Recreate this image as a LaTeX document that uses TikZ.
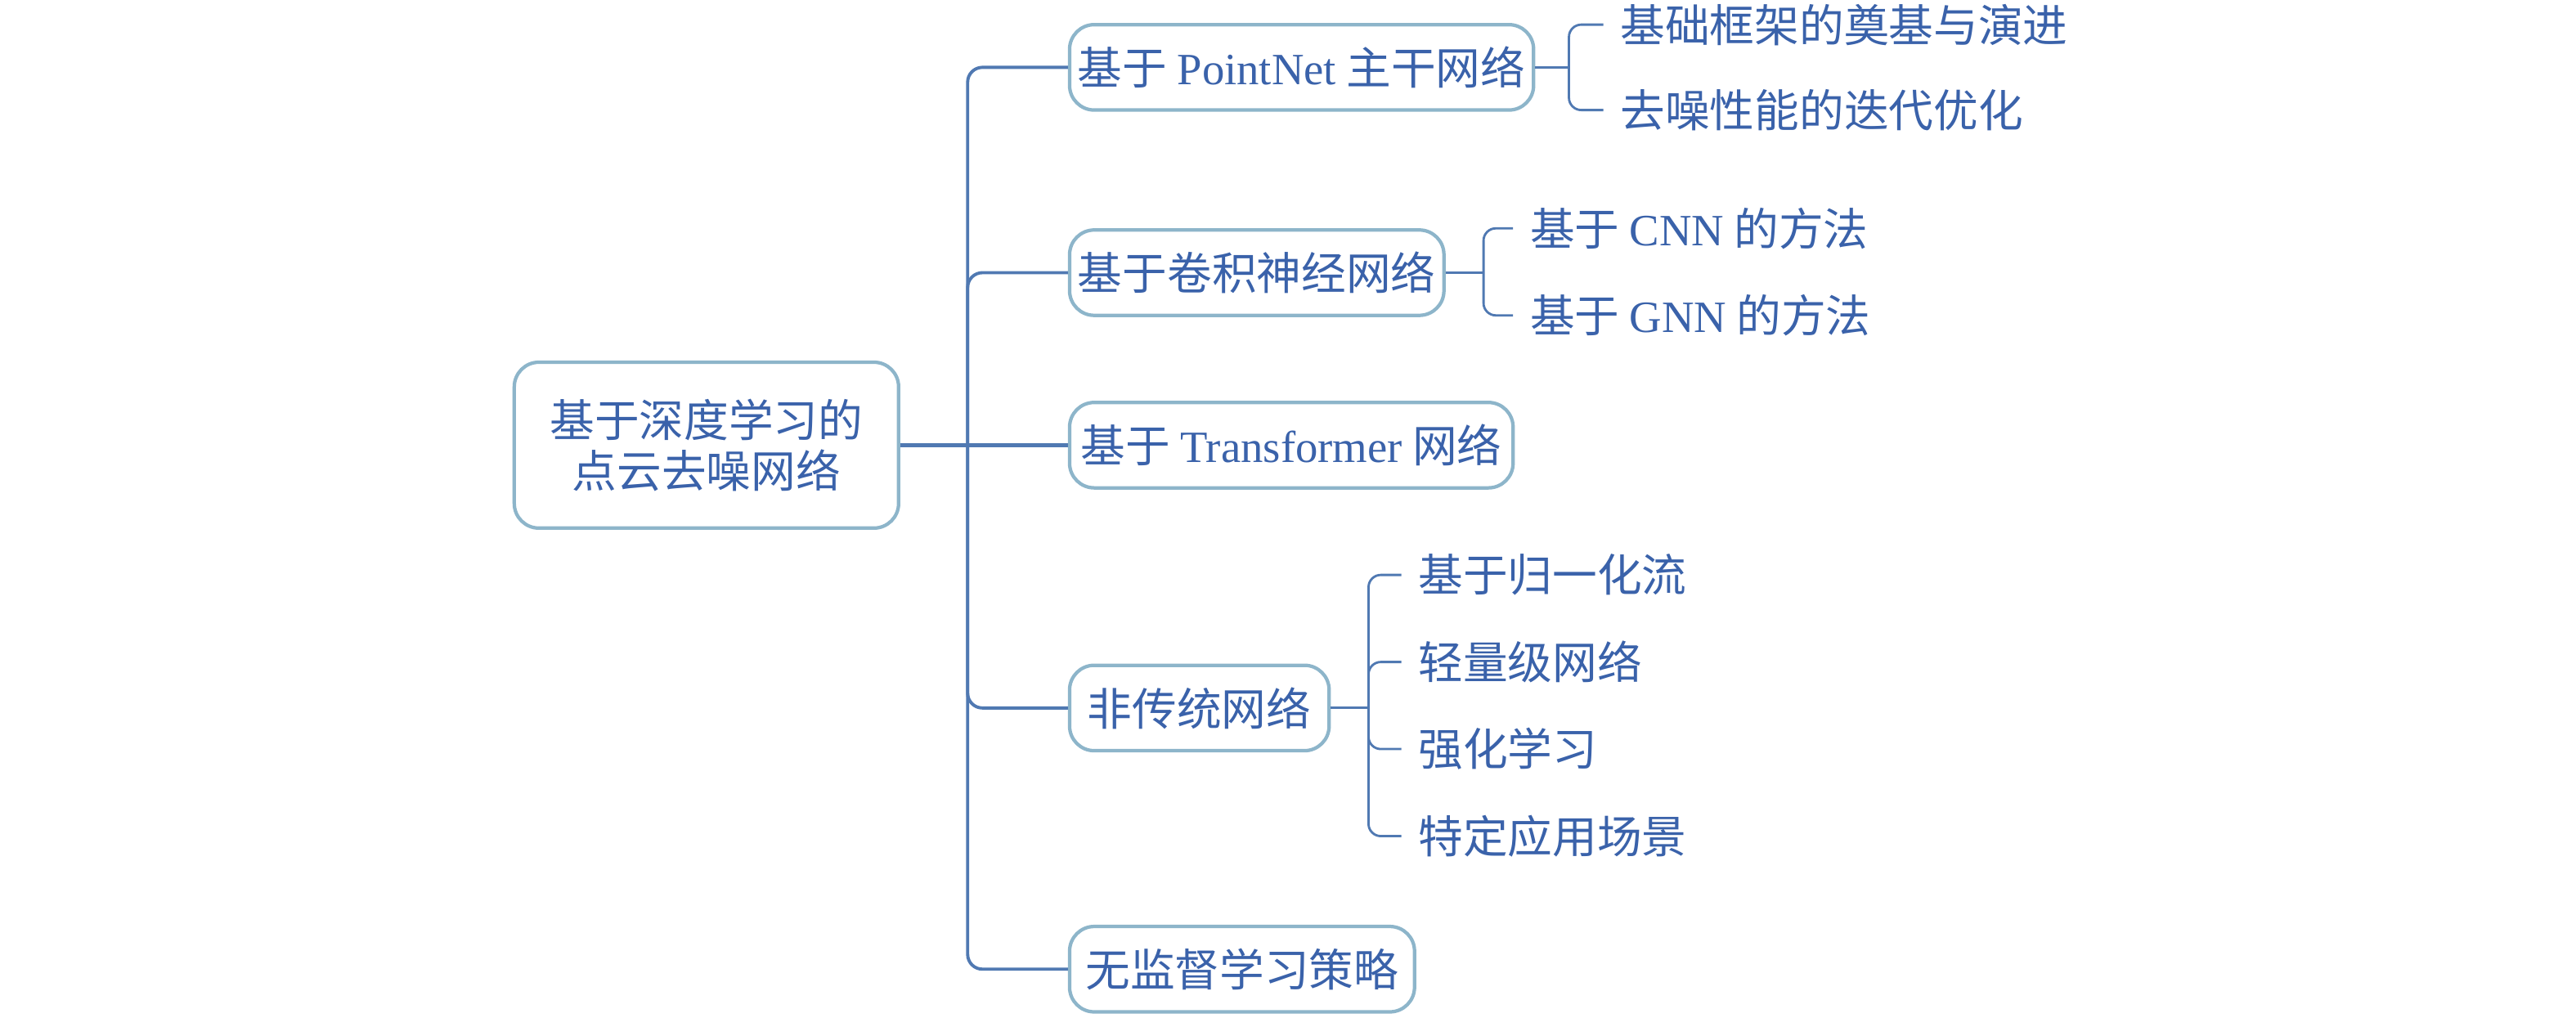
\documentclass[tikz,border=0pt]{standalone}
\usepackage{fontspec}
\setmainfont{Noto Sans CJK SC}
\newfontfamily\ltnfont{Liberation Serif}
\newcommand{\ltn}[1]{{\ltnfont #1}}
\usepackage{tikz}
\definecolor{txtblue}{HTML}{3A62AA}
\definecolor{lineblue}{HTML}{5079B2}
\definecolor{boxline}{HTML}{8DB5CA}

\begin{document}
\begin{tikzpicture}[x=0.02cm,y=-0.02cm,
    every node/.style={text=txtblue,font=\fontsize{15.5}{17.5}\selectfont},
    rootbox/.style={draw=boxline,line width=1.2pt,rounded corners=0.3cm,
        minimum width=4.68cm,minimum height=2.02cm,align=center,inner sep=0pt},
    topic/.style={draw=boxline,line width=1.2pt,rounded corners=0.3cm,anchor=west,
        minimum height=1.04cm,inner xsep=0.1cm,inner ysep=0pt},
    leaf/.style={anchor=west,inner xsep=0.2cm,inner ysep=0pt},
    trunk/.style={draw=lineblue,line width=1.1pt,rounded corners=0.18cm},
    brace/.style={draw=lineblue,line width=0.8pt,rounded corners=0.15cm}]
    \useasboundingbox (0,0) rectangle (1568,625);
    % main node and the five topics
    \node[rootbox] (root) at (430,271) {基于深度学习的\\点云去噪网络};
    \node[topic] (pnet) at (650,41) {基于 \ltn{PointNet} 主干网络};
    \node[topic] (conv) at (650,166) {基于卷积神经网络};
    \node[topic,minimum width=5.4cm] (trans) at (650,271) {基于 \ltn{Transformer} 网络};
    \node[topic,minimum width=3.16cm] (other) at (650,431) {非传统网络};
    \node[topic,minimum width=4.2cm] (unsup) at (650,590) {无监督学习策略};
    % sub topics
    \node[leaf] (pnet1) at (976,15) {基础框架的奠基与演进};
    \node[leaf] (pnet2) at (976,67) {去噪性能的迭代优化};
    \node[leaf] (conv1) at (921,139) {基于 \ltn{CNN} 的方法};
    \node[leaf] (conv2) at (921,192) {基于 \ltn{GNN} 的方法};
    \node[leaf] (other1) at (853,350) {基于归一化流};
    \node[leaf] (other2) at (853,403) {轻量级网络};
    \node[leaf] (other3) at (853,456) {强化学习};
    \node[leaf] (other4) at (853,509) {特定应用场景};
    % split points
    \coordinate (sp) at (589,271);
    \coordinate (bp) at (955,41);
    \coordinate (bc) at (903,166);
    \coordinate (bo) at (833,431);
    % trunk
    \draw[trunk,line width=1.4pt] (root.east) -- (trans.west);
    \draw[trunk] (pnet.west) -| (sp) |- (unsup.west);
    \draw[trunk] (conv.west) -| (sp);
    \draw[trunk] (other.west) -| (sp);
    % braces
    \draw[brace] (pnet.east) -- (bp);
    \draw[brace] (pnet1.west) -| (bp) |- (pnet2.west);
    \draw[brace] (conv.east) -- (bc);
    \draw[brace] (conv1.west) -| (bc) |- (conv2.west);
    \draw[brace] (other.east) -- (bo);
    \draw[brace] (other1.west) -| (bo) |- (other4.west);
    \draw[brace] (other2.west) -| (bo);
    \draw[brace] (other3.west) -| (bo);
\end{tikzpicture}
\end{document}
